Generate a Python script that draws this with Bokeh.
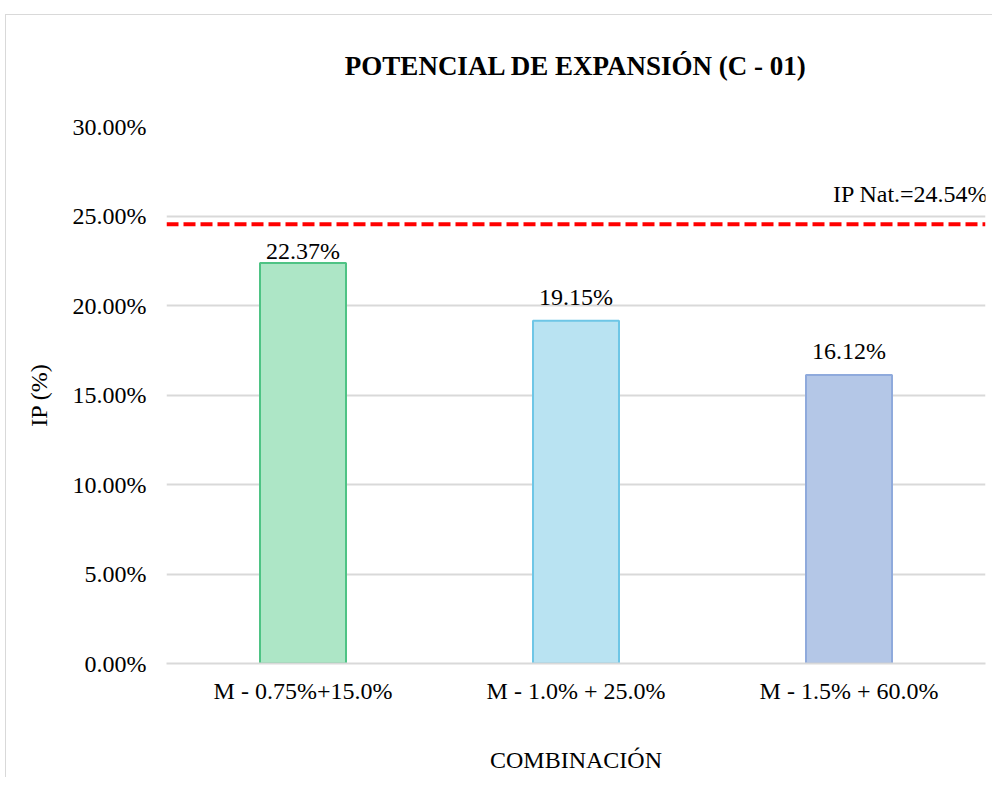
from bokeh.plotting import figure
from bokeh.models import ColumnDataSource, Span, Label, PrintfTickFormatter, FixedTicker, LabelSet
from bokeh.embed import file_html
from bokeh.resources import INLINE

# ---- data ----
categories = ["M - 0.75%+15.0%", "M - 1.0% + 25.0%", "M - 1.5% + 60.0%"]
ip_values = [22.37, 19.15, 16.12]
ip_natural = 24.54
y_ticks = [0, 5, 10, 15, 20, 25, 30]

# ---- styles ----
fill_colors = ["#ADE6C6", "#B9E3F2", "#B4C7E7"]
line_colors = ["#4EC384", "#6EC6E6", "#8FAADC"]
label_offsets = [12, 24, 24]
FONT = "Liberation Serif"

src = ColumnDataSource(dict(
    cat=categories, val=ip_values, fill=fill_colors, line=line_colors,
    txt=[f"{v:.2f}%" for v in ip_values], off=label_offsets,
))

p = figure(x_range=categories, y_range=(0, 30), width=992, height=777,
           output_backend="svg", toolbar_location=None,
           min_border_left=166, min_border_right=7, min_border_top=126, min_border_bottom=114,
           title="POTENCIAL DE EXPANSIÓN (C - 01)")
p.x_range.range_padding = 0
p.styles = {
    "background-image": "linear-gradient(#d9d9d9, #d9d9d9), linear-gradient(#d9d9d9, #d9d9d9)",
    "background-size": "1px 100%, 100% 1px",
    "background-position": "5px 14px, 5px 14px",
    "background-repeat": "no-repeat",
    "background-color": "white",
}

p.title.align = "center"
p.title.text_font = FONT
p.title.text_font_size = "27px"
p.title.text_font_style = "bold"
p.title.text_color = "#000000"
p.title.standoff = 92

p.vbar(x="cat", top="val", width=0.315, source=src, fill_color="fill",
       line_color="line", line_width=2)

labels = LabelSet(x="cat", y="val", text="txt", y_offset="off", source=src,
                  text_align="center", text_baseline="middle",
                  text_font=FONT, text_font_size="24px", text_color="#000000")
p.add_layout(labels)

p.add_layout(Span(location=ip_natural, dimension="width", line_color="#FF0000",
                  line_width=4, line_dash="12 5"))
p.add_layout(Label(x=3, y=ip_natural, y_offset=30, text=f"IP Nat.={ip_natural:.2f}%",
                   text_align="right", text_baseline="middle", x_offset=3,
                   text_font=FONT, text_font_size="24px", text_color="#000000"))

p.yaxis.ticker = FixedTicker(ticks=y_ticks)
p.yaxis.formatter = PrintfTickFormatter(format="%.2f%%")
p.yaxis.axis_line_color = None
p.yaxis.major_tick_line_color = None
p.yaxis.minor_tick_line_color = None
p.yaxis.major_label_standoff = 14
p.yaxis.axis_label = "IP (%)"
p.yaxis.axis_label_standoff = 18

p.xaxis.axis_line_color = "#d9d9d9"
p.xaxis.axis_line_width = 2
p.xaxis.major_tick_line_color = None
p.xaxis.minor_tick_line_color = None
p.xaxis.major_label_standoff = 8
p.xaxis.axis_label = "COMBINACIÓN"
p.xaxis.axis_label_standoff = 40

for ax in (p.xaxis, p.yaxis):
    ax.major_label_text_font = FONT
    ax.major_label_text_font_size = "24px"
    ax.major_label_text_color = "#000000"
    ax.axis_label_text_font = FONT
    ax.axis_label_text_font_size = "24px"
    ax.axis_label_text_font_style = "normal"
    ax.axis_label_text_color = "#000000"

p.xgrid.grid_line_color = None
p.ygrid.grid_line_color = "#d9d9d9"
p.ygrid.grid_line_width = 2
p.outline_line_color = None
p.background_fill_color = "white"
p.border_fill_color = None

open("out.html", "w").write(file_html(p, INLINE))
